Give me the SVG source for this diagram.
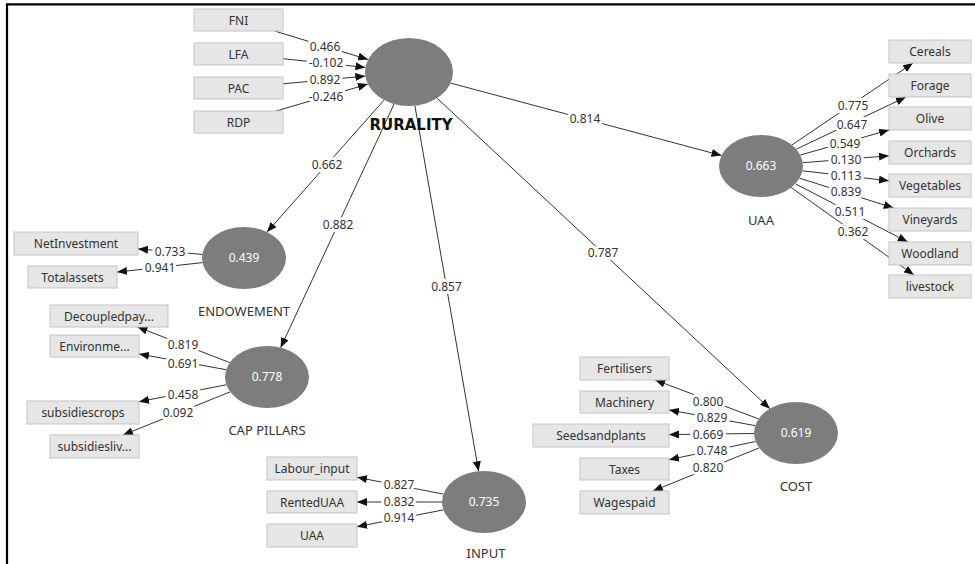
<svg xmlns="http://www.w3.org/2000/svg" width="975" height="564" viewBox="0 0 975 564">
  <defs>
    <marker id="arrow" markerUnits="userSpaceOnUse" markerWidth="10" markerHeight="8" refX="10" refY="4" orient="auto">
      <path d="M0,0 L10,4 L0,8 z" fill="#111"/>
    </marker>
    <filter id="soft" x="-10%" y="-10%" width="120%" height="120%">
      <feGaussianBlur stdDeviation="0.6"/>
    </filter>
  </defs>
  <style>
    .frame { stroke: #000; stroke-width: 2.2; fill: none; }
    .link { stroke: #333; stroke-width: 1; fill: none; marker-end: url(#arrow); }
    .box { fill: #e6e6e6; stroke: #c4c4c4; stroke-width: 1; }
    .blob { fill: #7d7d7d; filter: url(#soft); }
    .ind { font-family: "Noto Sans", "Open Sans", sans-serif; font-size: 12px; fill: #333; text-anchor: middle; }
    .val { font-family: "Noto Sans", "Open Sans", sans-serif; font-size: 12px; fill: #fff; text-anchor: middle; }
    .name { font-family: "Noto Sans", "Open Sans", sans-serif; font-size: 13px; fill: #333; text-anchor: middle; }
    .title { font-family: "DejaVu Sans", "Verdana", sans-serif; font-size: 15px; font-weight: bold; fill: #111; text-anchor: middle; }
    .w { font-family: "Noto Sans", "Open Sans", sans-serif; font-size: 12px; fill: #333; text-anchor: middle; paint-order: stroke; stroke: #fff; stroke-width: 6px; stroke-linejoin: round; }
  </style>

  <!-- page frame (top and left edges) -->
  <path class="frame" d="M7,564 V4.3 H975"/>

  <!-- connectors -->
  <g id="connectors">
    <!-- formative indicators into RURALITY -->
    <line class="link" x1="274.6" y1="31" x2="368.1" y2="59.5"/>
    <line class="link" x1="283" y1="58.7" x2="365.4" y2="67.4"/>
    <line class="link" x1="283" y1="83.8" x2="365.3" y2="76.1"/>
    <line class="link" x1="276" y1="111" x2="367.9" y2="84.1"/>
    <!-- structural paths -->
    <line class="link" x1="450.6" y1="83.1" x2="721.5" y2="155.5"/>
    <line class="link" x1="384.1" y1="100" x2="267" y2="232.1"/>
    <line class="link" x1="394.1" y1="104" x2="280.6" y2="347.7"/>
    <line class="link" x1="414.9" y1="105.7" x2="478.6" y2="471.2"/>
    <line class="link" x1="437.1" y1="98.2" x2="769.9" y2="408.7"/>
    <!-- UAA outer loadings -->
    <line class="link" x1="791.9" y1="145" x2="913" y2="63"/>
    <line class="link" x1="796.3" y1="149.2" x2="905.9" y2="97"/>
    <line class="link" x1="800.3" y1="155" x2="889.1" y2="130"/>
    <line class="link" x1="802.8" y1="162.7" x2="889" y2="155.8"/>
    <line class="link" x1="802.5" y1="170.8" x2="889" y2="180.8"/>
    <line class="link" x1="799.6" y1="178.2" x2="893.7" y2="208"/>
    <line class="link" x1="795.4" y1="183.8" x2="907.8" y2="242"/>
    <line class="link" x1="791.2" y1="187.5" x2="913.9" y2="275"/>
    <!-- ENDOWEMENT outer loadings -->
    <line class="link" x1="202.3" y1="254.4" x2="138" y2="248.9"/>
    <line class="link" x1="202.5" y1="262.6" x2="117" y2="272.1"/>
    <!-- CAP PILLARS outer loadings -->
    <line class="link" x1="229.8" y1="362.6" x2="137.5" y2="327"/>
    <line class="link" x1="226.2" y1="369.7" x2="139" y2="354"/>
    <line class="link" x1="226.4" y1="384.8" x2="139" y2="401.7"/>
    <line class="link" x1="230.1" y1="391.9" x2="123" y2="435"/>
    <!-- INPUT outer loadings -->
    <line class="link" x1="443.3" y1="494.1" x2="357" y2="477.3"/>
    <line class="link" x1="442" y1="502" x2="357" y2="502"/>
    <line class="link" x1="443.4" y1="509.9" x2="357" y2="526.7"/>
    <!-- COST outer loadings -->
    <line class="link" x1="758.6" y1="418.9" x2="655.1" y2="380"/>
    <line class="link" x1="755.2" y1="425.6" x2="669" y2="410"/>
    <line class="link" x1="754" y1="433.5" x2="669" y2="434.6"/>
    <line class="link" x1="755.6" y1="441.5" x2="669" y2="459.7"/>
    <line class="link" x1="759.2" y1="447.9" x2="652.9" y2="491"/>

    <!-- path coefficients and loadings -->
    <text class="w" x="325" y="50.5">0.466</text>
    <text class="w" x="326" y="66.5">-0.102</text>
    <text class="w" x="325" y="83.5">0.892</text>
    <text class="w" x="326" y="101">-0.246</text>

    <text class="w" x="585" y="123">0.814</text>
    <text class="w" x="327" y="169">0.662</text>
    <text class="w" x="338" y="228.5">0.882</text>
    <text class="w" x="446.5" y="291">0.857</text>
    <text class="w" x="603" y="256.5">0.787</text>

    <text class="w" x="853" y="110">0.775</text>
    <text class="w" x="852" y="129">0.647</text>
    <text class="w" x="845" y="148">0.549</text>
    <text class="w" x="846" y="164">0.130</text>
    <text class="w" x="846" y="180">0.113</text>
    <text class="w" x="846" y="196">0.839</text>
    <text class="w" x="850" y="216">0.511</text>
    <text class="w" x="853" y="236">0.362</text>

    <text class="w" x="170" y="256">0.733</text>
    <text class="w" x="160" y="272">0.941</text>

    <text class="w" x="183" y="349">0.819</text>
    <text class="w" x="183" y="368">0.691</text>
    <text class="w" x="183" y="399">0.458</text>
    <text class="w" x="178" y="417">0.092</text>

    <text class="w" x="399" y="489">0.827</text>
    <text class="w" x="399" y="506">0.832</text>
    <text class="w" x="399" y="522">0.914</text>

    <text class="w" x="708" y="405.5">0.800</text>
    <text class="w" x="712" y="422">0.829</text>
    <text class="w" x="708" y="439">0.669</text>
    <text class="w" x="712" y="455">0.748</text>
    <text class="w" x="708" y="472">0.820</text>
  </g>

  <!-- formative indicators of RURALITY -->
  <g id="FNI"><rect class="box" x="194" y="9" width="89" height="22"/><text class="ind" x="238.5" y="24.5">FNI</text></g>
  <g id="LFA"><rect class="box" x="194" y="43" width="89" height="22"/><text class="ind" x="238.5" y="58.5">LFA</text></g>
  <g id="PAC"><rect class="box" x="194" y="77" width="89" height="22"/><text class="ind" x="238.5" y="92.5">PAC</text></g>
  <g id="RDP"><rect class="box" x="194" y="111" width="89" height="22"/><text class="ind" x="238.5" y="126.5">RDP</text></g>

  <!-- RURALITY -->
  <g id="RURALITY">
    <ellipse class="blob" cx="409" cy="72" rx="44" ry="34"/>
    <text class="title" x="411" y="130">RURALITY</text>
  </g>

  <!-- UAA construct and its indicators -->
  <g id="UAA">
    <ellipse class="blob" cx="761" cy="166" rx="42" ry="31"/>
    <text class="val" x="761" y="170">0.663</text>
    <text class="name" x="761" y="225">UAA</text>
  </g>
  <g id="Cereals"><rect class="box" x="889" y="40" width="82" height="23"/><text class="ind" x="930" y="56">Cereals</text></g>
  <g id="Forage"><rect class="box" x="889" y="74" width="82" height="23"/><text class="ind" x="930" y="90">Forage</text></g>
  <g id="Olive"><rect class="box" x="889" y="107" width="82" height="23"/><text class="ind" x="930" y="123">Olive</text></g>
  <g id="Orchards"><rect class="box" x="889" y="141" width="82" height="23"/><text class="ind" x="930" y="157">Orchards</text></g>
  <g id="Vegetables"><rect class="box" x="889" y="174" width="82" height="23"/><text class="ind" x="930" y="190">Vegetables</text></g>
  <g id="Vineyards"><rect class="box" x="889" y="208" width="82" height="23"/><text class="ind" x="930" y="224">Vineyards</text></g>
  <g id="Woodland"><rect class="box" x="889" y="242" width="82" height="23"/><text class="ind" x="930" y="258">Woodland</text></g>
  <g id="livestock"><rect class="box" x="889" y="275" width="82" height="23"/><text class="ind" x="930" y="291">livestock</text></g>

  <!-- ENDOWEMENT -->
  <g id="ENDOWEMENT">
    <ellipse class="blob" cx="244" cy="258" rx="42" ry="31"/>
    <text class="val" x="244" y="262">0.439</text>
    <text class="name" x="244" y="316">ENDOWEMENT</text>
  </g>
  <g id="NetInvestment"><rect class="box" x="14" y="232" width="124" height="23"/><text class="ind" x="76" y="248">NetInvestment</text></g>
  <g id="Totalassets"><rect class="box" x="28" y="266" width="89" height="22"/><text class="ind" x="72.5" y="281.5">Totalassets</text></g>

  <!-- CAP PILLARS -->
  <g id="CAP_PILLARS">
    <ellipse class="blob" cx="267" cy="377" rx="42" ry="31"/>
    <text class="val" x="267" y="381">0.778</text>
    <text class="name" x="267" y="435">CAP PILLARS</text>
  </g>
  <g id="Decoupledpay"><rect class="box" x="50" y="305" width="118" height="22"/><text class="ind" x="109" y="320.5">Decoupledpay...</text></g>
  <g id="Environme"><rect class="box" x="50" y="335" width="89" height="22"/><text class="ind" x="94.5" y="350.5">Environme...</text></g>
  <g id="subsidiescrops"><rect class="box" x="27" y="401" width="112" height="23"/><text class="ind" x="83" y="417">subsidiescrops</text></g>
  <g id="subsidiesliv"><rect class="box" x="50" y="435" width="89" height="23"/><text class="ind" x="94.5" y="451">subsidiesliv...</text></g>

  <!-- INPUT -->
  <g id="INPUT">
    <ellipse class="blob" cx="484" cy="502" rx="42" ry="31"/>
    <text class="val" x="484" y="506">0.735</text>
    <text class="name" x="486" y="558">INPUT</text>
  </g>
  <g id="Labour_input"><rect class="box" x="267" y="457" width="90" height="23"/><text class="ind" x="312" y="473">Labour_input</text></g>
  <g id="RentedUAA"><rect class="box" x="267" y="491" width="90" height="22"/><text class="ind" x="312" y="506.5">RentedUAA</text></g>
  <g id="UAA_input"><rect class="box" x="267" y="524" width="90" height="23"/><text class="ind" x="312" y="540">UAA</text></g>

  <!-- COST -->
  <g id="COST">
    <ellipse class="blob" cx="796" cy="433" rx="42" ry="31"/>
    <text class="val" x="796" y="437">0.619</text>
    <text class="name" x="796" y="491">COST</text>
  </g>
  <g id="Fertilisers"><rect class="box" x="580" y="357" width="89" height="23"/><text class="ind" x="624.5" y="373">Fertilisers</text></g>
  <g id="Machinery"><rect class="box" x="580" y="391" width="89" height="22"/><text class="ind" x="624.5" y="406.5">Machinery</text></g>
  <g id="Seedsandplants"><rect class="box" x="533" y="424" width="136" height="23"/><text class="ind" x="601" y="440">Seedsandplants</text></g>
  <g id="Taxes"><rect class="box" x="580" y="458" width="89" height="22"/><text class="ind" x="624.5" y="473.5">Taxes</text></g>
  <g id="Wagespaid"><rect class="box" x="580" y="491" width="89" height="23"/><text class="ind" x="624.5" y="507">Wagespaid</text></g>
</svg>
